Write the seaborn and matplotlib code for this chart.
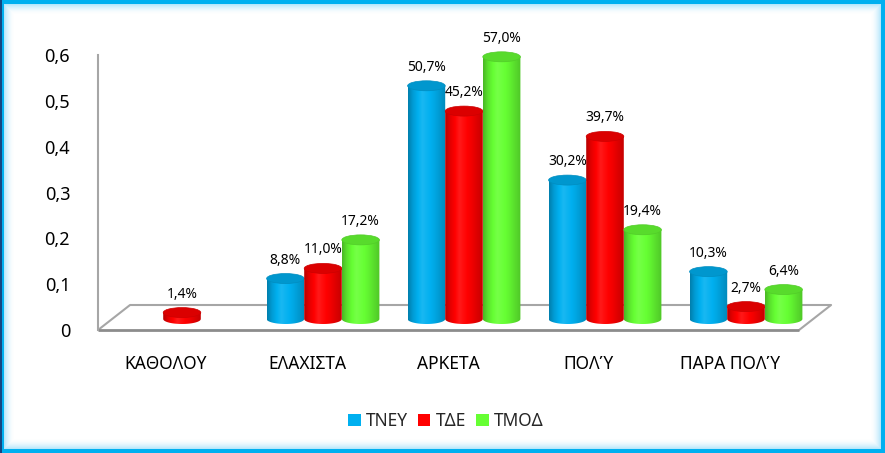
import numpy as np
import pandas as pd
import matplotlib
matplotlib.use("Agg")
import matplotlib.pyplot as plt
import seaborn as sns
from matplotlib.path import Path
from matplotlib.patches import PathPatch, Ellipse, Patch
import matplotlib.colors as mcolors

# ---------------- data ----------------
categories = ["ΚΑΘΟΛΟΥ", "ΕΛΑΧΙΣΤΑ", "ΑΡΚΕΤΑ", "ΠΟΛΎ", "ΠΑΡΑ ΠΟΛΎ"]
series = ["ΤΝΕΥ", "ΤΔΕ", "ΤΜΟΔ"]
tney = [np.nan, 0.088, 0.507, 0.302, 0.103]
tde = [0.014, 0.110, 0.452, 0.397, 0.027]
tmod = [np.nan, 0.172, 0.570, 0.194, 0.064]
colors = ["#00B0F0", "#FF0000", "#66FF33"]
y_ticks = [0.0, 0.1, 0.2, 0.3, 0.4, 0.5, 0.6]
y_tick_labels = ["0", "0,1", "0,2", "0,3", "0,4", "0,5", "0,6"]

df = pd.DataFrame({
    "category": categories * 3,
    "series": np.repeat(series, len(categories)),
    "value": tney + tde + tmod,
})

# ---------------- style ----------------
sns.set_style("white")
plt.rcParams["font.family"] = ["Noto Sans", "DejaVu Sans"]

W, H, DPI = 885, 453, 100
fig = plt.figure(figsize=(W / DPI, H / DPI), dpi=DPI)
fig.patch.set_facecolor("white")

PX = 460.0          # pixels per value unit
BASE = 319.0        # pixel row of bar base (from top)
XPX = 141.0         # pixels per category
y0, y1 = -0.05, 0.65
top_px = BASE - y1 * PX
bot_px = BASE - y0 * PX
ax = fig.add_axes([111.5 / W, (H - bot_px) / H, 705 / W, (bot_px - top_px) / H])
ax.set_facecolor("none")

sns.barplot(data=df, x="category", y="value", hue="series", order=categories,
            hue_order=series, palette=colors, width=0.8, saturation=1,
            errorbar=None, legend=False, ax=ax)

def shade(c, f):
    c = np.array(c)
    if f < 1:
        return c * f
    return c + (1 - c) * (f - 1)

eh = 10.0 / PX   # ellipse full height in data units
prof_t = np.array([0.0, 0.12, 0.38, 0.7, 1.0])
prof_f = np.array([0.72, 0.88, 1.10, 0.95, 0.78])
tt = np.linspace(0, 1, 64)
ff = np.interp(tt, prof_t, prof_f)

base_rgbs = [np.array(mcolors.to_rgb(c)) for c in colors]
patches = list(ax.patches)
for p in patches:
    h = p.get_height()
    p.set_visible(False)
    if not np.isfinite(h) or h <= 0:
        continue
    x0, w = p.get_x(), p.get_width()
    cx = x0 + w / 2
    fc = np.array(p.get_facecolor()[:3])
    idx = int(np.argmin([np.abs(fc - b).sum() for b in base_rgbs]))
    z = 3 + idx
    # body path with rounded bottom
    ang = np.linspace(np.pi, 2 * np.pi, 40)
    verts = [(x0, h), (x0, 0)]
    verts += list(zip(cx + w / 2 * np.cos(ang), eh / 2 * np.sin(ang)))
    verts += [(x0 + w, h), (x0, h)]
    codes = [Path.MOVETO] + [Path.LINETO] * (len(verts) - 2) + [Path.CLOSEPOLY]
    path = Path(verts, codes)
    clip = PathPatch(path, transform=ax.transData, facecolor="none", edgecolor="none")
    ax.add_patch(clip)
    grad = np.array([shade(fc, f) for f in ff])[None, :, :]
    im = ax.imshow(grad, extent=[x0, x0 + w, -eh / 2, h], aspect="auto",
                   interpolation="bicubic", zorder=z)
    im.set_clip_path(clip)
    top_col = shade(fc, 0.86)
    ax.add_patch(Ellipse((cx, h), w, eh, facecolor=top_col, edgecolor=shade(fc, 0.8),
                         linewidth=0.5, zorder=z + 0.1))
    lbl = f"{h * 100:.1f}%".replace(".", ",")
    ax.text(cx, h + eh / 2 + 6.0 / PX, lbl, ha="center", va="bottom",
            fontsize=10, color="black", zorder=10)

# floor
dx = 16.0 / XPX
dy_front = (BASE - 330) / PX
dy_back = (BASE - 305) / PX
xl, xr = -0.482, 4.49
fl, fr = (xl - dx, dy_front), (xr - dx, dy_front)
bl, br = (xl + dx, dy_back), (xr + dx, dy_back)
gray = "#a6a6a6"
kw = dict(clip_on=False, zorder=1)
ax.plot([bl[0], br[0]], [bl[1], br[1]], color=gray, lw=1.5, solid_capstyle="butt", **kw)
ax.plot([fl[0], bl[0]], [fl[1], bl[1]], color=gray, lw=1.5, **kw)
ax.plot([br[0], fr[0]], [br[1], fr[1]], color=gray, lw=1.5, **kw)
ax.plot([fl[0], fr[0]], [fl[1], fr[1]], color="#8c8c8c", lw=2, solid_capstyle="butt", **kw)

# category labels
lab_y = (BASE - 364) / PX
for i, c in enumerate(categories):
    ax.text(i - dx, lab_y, c, ha="center", va="center", fontsize=12.5, color="black")

ax.set_xlim(-0.5, 4.5)
ax.set_ylim(y0, y1)
ax.axis("off")

# wall axis (value axis)
wax = fig.add_axes([98 / W, (H - 330) / H, 0.0005, 275 / H])
wax.set_facecolor("none")
wax.set_ylim(0, 0.6)
wax.set_yticks(y_ticks)
wax.set_yticklabels(y_tick_labels, fontsize=13)
wax.set_xticks([])
for s in ["top", "right", "bottom"]:
    wax.spines[s].set_visible(False)
wax.spines["left"].set_color(gray)
wax.spines["left"].set_linewidth(1.5)
wax.tick_params(axis="y", length=0, pad=20, colors="black")

# legend
handles = [Patch(facecolor=c, edgecolor="none", label=s) for c, s in zip(colors, series)]
fig.legend(handles=handles, loc="center", bbox_to_anchor=(446 / W, 1 - 421 / H), ncol=3,
           frameon=False, fontsize=12.5, handlelength=0.7, handleheight=0.7,
           handletextpad=0.3, columnspacing=0.6)

# glowing frame
yy, xx = np.mgrid[0:H, 0:W]
d = np.minimum(np.minimum(xx, W - 1 - xx), np.minimum(yy, H - 1 - yy)).astype(float)
rgba = np.zeros((H, W, 4))
cyan = np.array([0, 176, 240]) / 255.0
light = np.array([150, 220, 250]) / 255.0
band = d < 3.5
rgba[band, :3] = cyan
rgba[band, 3] = 1
t = np.clip((d - 3.5) / 11.0, 0, 1)
glow = (~band) & (t < 1)
rgba[glow, :3] = light
rgba[glow, 3] = ((1 - t[glow]) ** 2) * 0.75
navy = xx < 1.5
rgba[navy, :3] = np.array([20, 70, 130]) / 255.0
rgba[navy, 3] = 1
oax = fig.add_axes([0, 0, 1, 1], zorder=20)
oax.set_facecolor("none")
oax.imshow(rgba, extent=[0, W, 0, H], aspect="auto", interpolation="nearest")
oax.axis("off")

fig.savefig("out.png", dpi=DPI, facecolor="white")
